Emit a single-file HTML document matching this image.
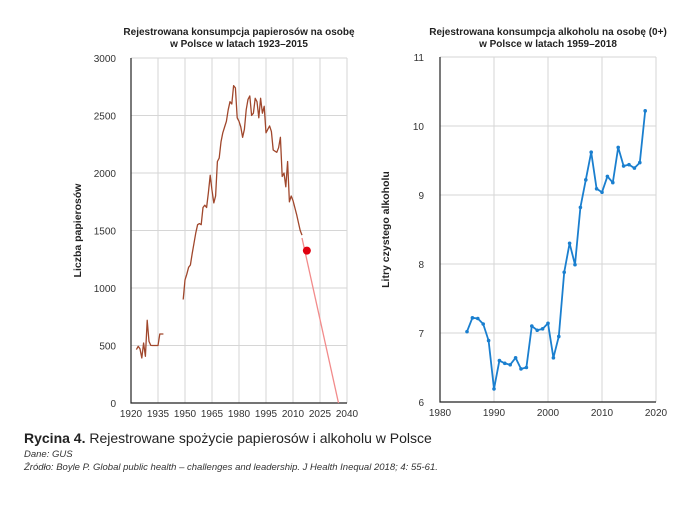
<!DOCTYPE html>
<html><head><meta charset="utf-8"><style>
body{margin:0;background:#fff;width:700px;height:503px;overflow:hidden;font-family:"Liberation Sans",sans-serif}
svg text{font-family:"Liberation Sans",sans-serif}
</style></head><body>
<svg id="s" width="700" height="503">
<g id="g1"></g>
<g id="g2"></g>
<text x="24" y="443" font-size="14" fill="#222"><tspan font-weight="bold">Rycina 4.</tspan> Rejestrowane spożycie papierosów i alkoholu w Polsce</text>
<text x="24" y="457" font-size="9.5" font-style="italic" fill="#333">Dane: GUS</text>
<text x="24" y="470" font-size="9.5" font-style="italic" fill="#333">Źródło: Boyle P. Global public health – challenges and leadership. J Health Inequal 2018; 4: 55-61.</text>
</svg>
<script>
const cigYears=[1923,1924,1925,1926,1927,1928,1929,1930,1931,1932,1933,1934,1935,1936,1937,1938];
const cigVals=[464,493,470,391,522,406,719,536,501,500,500,500,500,600,600,600];
const cigYears2=[1949,1950,1951,1952,1953,1954,1955,1956,1957,1958,1959,1960,1961,1962,1963,1964,1965,1966,1967,1968,1969,1970,1971,1972,1973,1974,1975,1976,1977,1978,1979,1980,1981,1982,1983,1984,1985,1986,1987,1988,1989,1990,1991,1992,1993,1994,1995,1996,1997,1998,1999,2000,2001,2002,2003,2004,2005,2006,2007,2008,2009,2010,2011,2012,2013,2014,2015];
const cigVals2=[900,1070,1120,1180,1200,1300,1390,1480,1550,1560,1550,1700,1720,1700,1830,1980,1850,1740,1800,2100,2130,2270,2350,2400,2450,2550,2620,2600,2760,2740,2480,2450,2400,2310,2380,2550,2640,2670,2500,2520,2650,2620,2480,2650,2520,2580,2350,2380,2410,2360,2200,2190,2180,2220,2310,1970,2000,1880,2100,1750,1800,1760,1700,1640,1570,1500,1460];
const projYears=[2015,2035.3];
const projVals=[1435,0];
const dotYear=[2017.7];const dotVal=[1325];
const cigXTicks=[1920,1935,1950,1965,1980,1995,2010,2025,2040];
const cigYTicks=[0,500,1000,1500,2000,2500,3000];
const alcYears=[1985,1986,1987,1988,1989,1990,1991,1992,1993,1994,1995,1996,1997,1998,1999,2000,2001,2002,2003,2004,2005,2006,2007,2008,2009,2010,2011,2012,2013,2014,2015,2016,2017,2018];
const alcVals=[7.02,7.22,7.21,7.13,6.89,6.19,6.60,6.56,6.54,6.64,6.48,6.50,7.10,7.04,7.06,7.14,6.64,6.95,7.88,8.30,7.99,8.82,9.22,9.62,9.09,9.04,9.27,9.18,9.69,9.42,9.44,9.39,9.47,10.22];
const alcXTicks=[1980,1990,2000,2010,2020];
const alcYTicks=[6,7,8,9,10,11];
const NS="http://www.w3.org/2000/svg";
function mk(p,t,a){const e=document.createElementNS(NS,t);for(const k in a)e.setAttribute(k,a[k]);p.appendChild(e);return e;}
function chart(g,L,R,T,B,x0,x1,y0,y1,xt,yt,title1,title2,ytitle,ylabelX,decimals){
 const X=v=>L+(v-x0)/(x1-x0)*(R-L),Y=v=>B-(v-y0)/(y1-y0)*(B-T);
 xt.forEach(v=>{const l=mk(g,'line',{x1:X(v),x2:X(v),y1:T,y2:B,stroke:'#d6d6d6','stroke-width':1});
 
 const t=mk(g,'text',{x:X(v),y:B+14,'font-size':10,'text-anchor':'middle',fill:'#333'});t.textContent=v;
 });
 yt.forEach(v=>{const l=mk(g,'line',{x1:L,x2:R,y1:Y(v),y2:Y(v),stroke:'#d6d6d6','stroke-width':1});
 
 const t=mk(g,'text',{x:ylabelX,y:Y(v)+4,'font-size':10,'text-anchor':'end',fill:'#333'});t.textContent=v;
 });
 const ax=mk(g,'path',{d:`M${L},${T}V${B}H${R}`,stroke:'#222','stroke-width':1.2,fill:'none'});
 
 const cx=(L+R)/2;
 [title1,title2].forEach((s,i)=>{const t=mk(g,'text',{x:cx,y:35+i*12,'font-size':10,'font-weight':'bold','text-anchor':'middle',fill:'#222'});t.textContent=s;
 });
 const yl=ylabelX-35,ym=(T+B)/2;
 const t=mk(g,'text',{x:yl,y:ym,'font-size':10.5,'font-weight':'bold','text-anchor':'middle',fill:'#222',transform:`rotate(-90 ${yl} ${ym})`});t.textContent=ytitle;
 
 return {X,Y};
}
const g1=document.getElementById('g1');
const a=chart(g1,131,347,58,403,1920,2040,0,3000,cigXTicks,cigYTicks,'Rejestrowana konsumpcja papierosów na osobę','w Polsce w latach 1923–2015','Liczba papierosów',116);
function line(g,xs,ys,ax,col,w,name){const d=xs.map((v,i)=>(i?'L':'M')+ax.X(v).toFixed(1)+','+ax.Y(ys[i]).toFixed(1)).join('');
 const p=mk(g,'path',{d:d,stroke:col,'stroke-width':w,fill:'none','stroke-linejoin':'round'});
 }
line(g1,cigYears,cigVals,a,'#a0472c',1.3,'cigarette-line-prewar');
line(g1,cigYears2,cigVals2,a,'#a0472c',1.3,'cigarette-line-postwar');
line(g1,projYears,projVals,a,'#f28b8b',1.3,'projection-line');
const dot=mk(g1,'circle',{cx:a.X(dotYear[0]),cy:a.Y(dotVal[0]),r:4,fill:'#e0000f'});

const g2=document.getElementById('g2');
const b=chart(g2,440,656,57,402,1980,2020,6,11,alcXTicks,alcYTicks,'Rejestrowana konsumpcja alkoholu na osobę (0+)','w Polsce w latach 1959–2018','Litry czystego alkoholu',424);
line(g2,alcYears,alcVals,b,'#1a7fcf',1.8,'alcohol-line');
alcYears.forEach((v,i)=>{const c=mk(g2,'circle',{cx:b.X(v),cy:b.Y(alcVals[i]),r:1.8,fill:'#1a7fcf'});
 });
</script>
</body></html>
